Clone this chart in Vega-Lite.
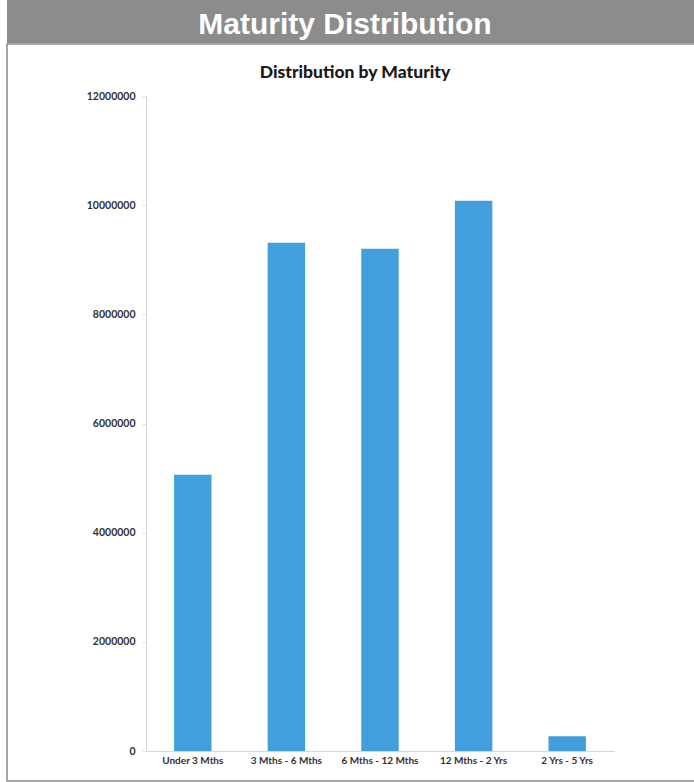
{
  "$schema": "https://vega.github.io/schema/vega-lite/v6.json",
  "padding": {"left": 6, "top": 0, "right": 0, "bottom": 0},
  "background": "white",
  "spacing": 0,
  "config": {"concat": {"spacing": 0}},
  "vconcat": [
    {
      "width": 688,
      "height": 43,
      "view": {"fill": "#8c8c8c", "stroke": null},
      "data": {"values": [{"label": "Maturity Distribution"}]},
      "mark": {"type": "text", "font": "Liberation Sans", "fontWeight": "bold", "fontSize": 30, "color": "white", "baseline": "middle", "align": "center", "dx": -6, "dy": 3},
      "encoding": {"text": {"field": "label", "type": "nominal"}}
    },
    {
      "width": 688,
      "height": 737,
      "view": {"fill": "white", "stroke": "#8a8a8a", "strokeWidth": 1.5},
      "title": {"text": "Distribution by Maturity", "offset": -37, "fontSize": 17.5, "font": "Lato", "fontWeight": 900, "color": "#1a1a1a", "anchor": "middle", "dx": 4},
      "data": {"values": [
        {"maturity": "Under 3 Mths", "amount": 5060000},
        {"maturity": "3 Mths - 6 Mths", "amount": 9310000},
        {"maturity": "6 Mths - 12 Mths", "amount": 9200000},
        {"maturity": "12 Mths - 2 Yrs", "amount": 10080000},
        {"maturity": "2 Yrs - 5 Yrs", "amount": 270000}
      ]},
      "mark": {"type": "bar", "color": "#419fde"},
      "encoding": {
        "x": {
          "field": "maturity", "type": "ordinal", "sort": null,
          "scale": {"range": [139, 607], "paddingInner": 0.6, "paddingOuter": 0.3},
          "axis": {"title": null, "labelAngle": 0, "labelFont": "Lato", "labelFontWeight": "bold", "labelFontSize": 10, "labelColor": "#333333", "ticks": false, "domainColor": "#d6d6d6", "labelPadding": 4, "offset": -30}
        },
        "y": {
          "field": "amount", "type": "quantitative",
          "scale": {"domain": [0, 12000000], "nice": false, "range": [707, 52]},
          "axis": {"title": null, "values": [0, 2000000, 4000000, 6000000, 8000000, 10000000, 12000000], "format": "d", "labelFont": "Lato", "labelFontWeight": "bold", "labelFontSize": 10.5, "labelColor": "#333333", "ticks": true, "tickColor": "#e3e3e3", "tickSize": 4, "labelPadding": 7, "domainColor": "#d6d6d6", "grid": false, "offset": -139}
        }
      }
    }
  ]
}
